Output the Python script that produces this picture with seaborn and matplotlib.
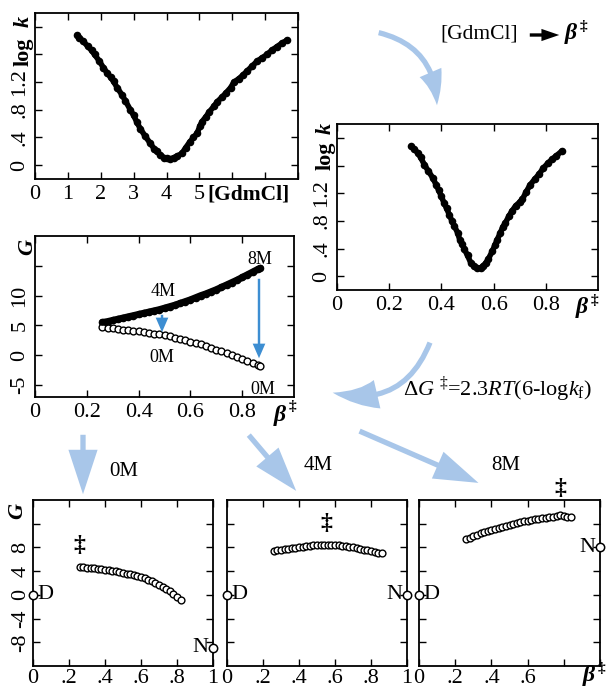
import numpy as np
import pandas as pd
import matplotlib
matplotlib.use("Agg")
import matplotlib.pyplot as plt
import seaborn as sns
from matplotlib.patches import FancyArrowPatch

# ---- data ----
# top-left: log k vs [GdmCl]
gdm = [1.28, 1.35, 1.45, 1.60, 1.72, 1.81, 1.95, 2.08, 2.20, 2.30, 2.39, 2.50, 2.64, 2.75,
       2.90, 3.00, 3.10, 3.20, 3.35, 3.50, 3.62, 3.70, 3.81, 3.92, 4.02, 4.12, 4.22, 4.32,
       4.47, 4.58, 4.70, 4.82, 4.93, 5.02, 5.08, 5.20, 5.30, 5.44, 5.55, 5.68, 5.80, 5.95,
       6.05, 6.20, 6.32, 6.45, 6.60, 6.75, 6.90, 7.06, 7.20, 7.35, 7.50, 7.68]
logk_gdm = [1.88, 1.84, 1.80, 1.72, 1.66, 1.60, 1.51, 1.41, 1.33, 1.27, 1.21, 1.12, 1.02, 0.93,
            0.80, 0.72, 0.62, 0.53, 0.42, 0.32, 0.24, 0.20, 0.15, 0.11, 0.10, 0.09, 0.11, 0.13,
            0.17, 0.25, 0.33, 0.40, 0.46, 0.57, 0.63, 0.70, 0.77, 0.85, 0.92, 0.98, 1.04, 1.12,
            1.20, 1.25, 1.30, 1.36, 1.43, 1.50, 1.55, 1.60, 1.66, 1.71, 1.76, 1.81]

# middle-right: log k vs beta
beta_k = [0.285, 0.295, 0.31, 0.32, 0.335, 0.35, 0.367, 0.38, 0.39, 0.399, 0.41, 0.42, 0.43,
          0.44, 0.45, 0.462, 0.47, 0.48, 0.488, 0.50, 0.513, 0.525, 0.538, 0.55, 0.56, 0.57,
          0.58, 0.595, 0.605, 0.614, 0.625, 0.635, 0.645, 0.659, 0.67, 0.685, 0.70, 0.71,
          0.725, 0.74, 0.757, 0.773, 0.79, 0.807, 0.824, 0.84, 0.862]
logk_beta = [1.88, 1.84, 1.78, 1.72, 1.61, 1.52, 1.42, 1.32, 1.24, 1.16, 1.06, 0.98, 0.89,
             0.80, 0.72, 0.63, 0.53, 0.46, 0.39, 0.30, 0.19, 0.14, 0.12, 0.12, 0.15, 0.19,
             0.25, 0.36, 0.45, 0.53, 0.62, 0.71, 0.77, 0.87, 0.94, 1.02, 1.07, 1.11,
             1.22, 1.32, 1.40, 1.47, 1.56, 1.63, 1.69, 1.74, 1.81]

# middle-left: G vs beta at 8M (filled) and 0M (open)
beta_c = [0.26, 0.28, 0.30, 0.32, 0.34, 0.36, 0.38, 0.40, 0.42, 0.44, 0.46, 0.48, 0.50, 0.52,
          0.54, 0.56, 0.58, 0.60, 0.62, 0.64, 0.66, 0.68, 0.70, 0.72, 0.74, 0.76, 0.78, 0.80,
          0.82, 0.84, 0.86, 0.87]
g_8m = [5.5, 5.65, 5.85, 6.05, 6.25, 6.45, 6.65, 6.85, 7.05, 7.25, 7.45, 7.65, 7.9, 8.15,
        8.4, 8.7, 9.0, 9.3, 9.65, 10.0, 10.3, 10.65, 11.0, 11.4, 11.8, 12.2, 12.6, 13.05,
        13.5, 13.95, 14.4, 14.6]
g_0m_c = [4.7, 4.6, 4.5, 4.4, 4.3, 4.2, 4.1, 4.0, 3.9, 3.75, 3.6, 3.5, 3.35, 3.15,
          2.95, 2.75, 2.5, 2.3, 2.1, 1.85, 1.55, 1.25, 0.95, 0.65, 0.3, 0.05, -0.3, -0.6,
          -0.95, -1.25, -1.6, -1.8]

# bottom row: G profiles at 0M, 4M, 8M
beta_0m = [0.26, 0.28, 0.30, 0.32, 0.34, 0.36, 0.38, 0.40, 0.42, 0.44, 0.46, 0.48, 0.50, 0.52,
           0.54, 0.56, 0.58, 0.60, 0.62, 0.64, 0.66, 0.68, 0.70, 0.72, 0.74, 0.76, 0.78, 0.80, 0.82]
g_0m = [4.72, 4.65, 4.6, 4.53, 4.47, 4.4, 4.33, 4.25, 4.18, 4.08, 3.97, 3.85, 3.72, 3.6,
        3.45, 3.3, 3.15, 3.0, 2.8, 2.55, 2.3, 2.0, 1.7, 1.35, 1.0, 0.6, 0.2, -0.3, -0.88]
beta_4m = [0.26, 0.28, 0.30, 0.32, 0.34, 0.36, 0.38, 0.40, 0.42, 0.44, 0.46, 0.48, 0.50, 0.52,
           0.54, 0.56, 0.58, 0.60, 0.62, 0.64, 0.66, 0.68, 0.70, 0.72, 0.74, 0.76, 0.78, 0.80,
           0.82, 0.84, 0.86]
g_4m = [7.42, 7.5, 7.6, 7.7, 7.8, 7.88, 7.96, 8.04, 8.12, 8.2, 8.27, 8.33, 8.38, 8.42,
        8.43, 8.43, 8.42, 8.4, 8.36, 8.3, 8.22, 8.12, 8.02, 7.9, 7.77, 7.63, 7.5, 7.37,
        7.25, 7.12, 7.0]
beta_8m = [0.26, 0.28, 0.30, 0.32, 0.34, 0.36, 0.38, 0.40, 0.42, 0.44, 0.46, 0.48, 0.50, 0.52,
           0.54, 0.56, 0.58, 0.60, 0.62, 0.64, 0.66, 0.68, 0.70, 0.72, 0.74, 0.76, 0.78, 0.80,
           0.82, 0.84]
g_8m_b = [9.35, 9.6, 9.85, 10.1, 10.35, 10.6, 10.8, 11.0, 11.15, 11.3, 11.45, 11.6, 11.8, 11.95,
          12.1, 12.25, 12.4, 12.5, 12.65, 12.75, 12.85, 12.92, 13.0, 13.05, 13.15, 13.25, 13.45,
          13.35, 13.2, 13.1]
g_native = [-8.9, 0.0, 8.0]          # N end point for 0M, 4M, 8M
ts_pos = [(0.26, 8.4), (0.55, 12.0), (0.78, 17.9)]   # double dagger marks

sns.set_theme(style="ticks")
plt.rcParams["font.family"] = ["Liberation Serif", "DejaVu Serif"]
plt.rcParams["text.color"] = "black"
plt.rcParams["mathtext.fontset"] = "custom"
plt.rcParams["mathtext.rm"] = "Liberation Serif"
plt.rcParams["mathtext.it"] = "Liberation Serif:italic"
plt.rcParams["mathtext.bf"] = "Liberation Serif:bold"

W, H = 610, 699
fig = plt.figure(figsize=(6.1, 6.99), dpi=100)
BLUE = "#a3c3e8"
DBLUE = "#3d8ed2"


def rect(x0, y0, x1, y1):
    return [x0 / W, 1 - y1 / H, (x1 - x0) / W, (y1 - y0) / H]


def style(ax, xlim, ylim, xticks, xlabels, yticks, ylabels, pad=3):
    ax.set_xlim(xlim)
    ax.set_ylim(ylim)
    ax.set_xticks(xticks)
    ax.set_xticklabels(xlabels)
    ax.set_yticks(yticks)
    ax.set_yticklabels(ylabels, rotation=90, va="center")
    ax.tick_params(direction="in", top=True, right=True, length=5, width=1,
                   labelsize=16, pad=pad, colors="black")
    for s in ax.spines.values():
        s.set_linewidth(1.3)
        s.set_color("black")
    ax.set_xlabel("")
    ax.set_ylabel("")


def filled(ax, x, y, lw=3.0, s=16):
    df = pd.DataFrame({"x": x, "y": y})
    sns.lineplot(data=df, x="x", y="y", ax=ax, color="black", linewidth=lw,
                 sort=False, estimator=None)
    sns.scatterplot(data=df, x="x", y="y", ax=ax, color="black", s=s, linewidth=0)


def opened(ax, x, y, s=24):
    df = pd.DataFrame({"x": x, "y": y})
    sns.scatterplot(data=df, x="x", y="y", ax=ax, marker="o", s=s,
                    facecolor="white", edgecolor="black", linewidth=1.0)


# panel A
axA = fig.add_axes(rect(35, 13, 298, 179))
filled(axA, gdm, logk_gdm, lw=4.0, s=30)
style(axA, (0, 8), (-0.2, 2.2), range(9), ["0", "1", "2", "3", "4", "5", "", "", ""],
      [0, 0.4, 0.8, 1.2, 1.6, 2.0], ["0", ".4", ".8", "1.2", "", ""], pad=4)

# panel B
axB = fig.add_axes(rect(337, 124, 598, 290))
filled(axB, beta_k, logk_beta, lw=4.0, s=30)
style(axB, (0, 1), (-0.2, 2.2), [0, 0.2, 0.4, 0.6, 0.8], ["0", "0.2", "0.4", "0.6", "0.8"],
      [0, 0.4, 0.8, 1.2, 1.6, 2.0], ["0", ".4", ".8", "1.2", "", ""], pad=4)

# panel C
axC = fig.add_axes(rect(35, 236, 294, 397))
filled(axC, beta_c, g_8m, lw=5.0, s=30)
opened(axC, beta_c, g_0m_c)
style(axC, (0, 1), (-7, 20), [0, 0.2, 0.4, 0.6, 0.8], ["0", "0.2", "0.4", "0.6", "0.8"],
      [-5, 0, 5, 10, 15], ["-5", "0", "5", "10", ""], pad=4)

# bottom row
boxes = [(33, 213), (227, 407), (419, 600)]
profiles = [(beta_0m, g_0m), (beta_4m, g_4m), (beta_8m, g_8m_b)]
xlabs = [["0", ".2", ".4", ".6", ".8", "1"], ["0", ".2", ".4", ".6", ".8", "1"],
         ["0", ".2", ".4", ".6", "", ""]]
for i, ((x0, x1), (bx, gy)) in enumerate(zip(boxes, profiles)):
    ax = fig.add_axes(rect(x0, 500, x1, 666))
    opened(ax, bx, gy)
    ax.plot([0], [0], "o", ms=6, mfc="white", mec="black", mew=1.1, clip_on=False, zorder=5)
    ax.plot([1], [g_native[i]], "o", ms=6, mfc="white", mec="black", mew=1.1,
            clip_on=False, zorder=5)
    ax.text(0.025, 0, "D", fontsize=16, va="center", ha="left")
    ax.text(0.975, g_native[i], "N", fontsize=16, va="center", ha="right")
    ax.text(ts_pos[i][0], ts_pos[i][1], "‡", fontsize=17, ha="center", va="center",
            fontweight="bold", clip_on=False)
    style(ax, (0, 1), (-12, 16), [0, 0.2, 0.4, 0.6, 0.8, 1], xlabs[i],
          [-8, -4, 0, 4, 8, 12], ["-8", "-4", "0", "4", "8", ""] if i == 0 else [""] * 6, pad=2)

# overlay in pixel coordinates for annotations
ov = fig.add_axes([0, 0, 1, 1])
ov.set_xlim(0, W)
ov.set_ylim(H, 0)
ov.axis("off")
ov.patch.set_alpha(0)
ov.set_zorder(10)


def beta_lab(x, y, size=17):
    ov.text(x, y, "β", fontsize=size, fontweight="bold", style="italic", ha="center", va="center")
    ov.text(x + 12, y - 8, "‡", fontsize=size * 0.65, fontweight="bold", ha="center", va="center")


def rot_lab(x, y, s, italic=False):
    ov.text(x, y, s, fontsize=16, fontweight="bold", style="italic" if italic else "normal",
            rotation=90, ha="center", va="center")


rot_lab(24, 52, "log")
rot_lab(24, 21, "k", italic=True)
rot_lab(326, 156, "log")
rot_lab(326, 128, "k", italic=True)
rot_lab(27, 247, "G", italic=True)
rot_lab(17, 511, "G", italic=True)
ov.text(207, 195, "[GdmCl]", fontsize=15.5, fontweight="bold", ha="left", va="center")
beta_lab(582, 308)
beta_lab(280, 415)
beta_lab(589, 676)

# labels in panel C
for (x, y, s) in [(260, 259, "8M"), (163, 292, "4M"), (162, 357, "0M"), (263, 389, "0M")]:
    ov.text(x, y, s, fontsize=13, ha="center", va="center")
for (x0, y0, x1, y1) in [(162, 312, 162, 335), (259, 276, 259, 361)]:
    ov.add_patch(FancyArrowPatch((x0, y0), (x1, y1), mutation_scale=7, color=DBLUE, lw=0,
                                 arrowstyle="simple,head_length=1.5,head_width=1.3,tail_width=0.25"))

# top-right note
ov.text(440, 34, "[GdmCl]", fontsize=15.5, ha="left", va="center")
ov.add_patch(FancyArrowPatch((527, 35), (562, 35), mutation_scale=8, color="black", lw=0,
                             arrowstyle="simple,head_length=1.6,head_width=1.1,tail_width=0.3"))
beta_lab(571, 34, size=17)

# formula
ov.text(403, 390, r"$\Delta G$ $^{\ddagger}$=2.3$RT$(6-log$k_{\rm f}$)", fontsize=16,
        ha="left", va="center")

# bottom labels
for (x, y, s) in [(124, 471, "0M"), (318, 465, "4M"), (506, 465, "8M")]:
    ov.text(x, y, s, fontsize=15, ha="center", va="center")

# light blue flow arrows
big = "simple,head_length=3.2,head_width=2.1,tail_width=0.38"
flows = [((376, 32), (437, 108), "arc3,rad=-0.4", "simple,head_length=2.4,head_width=1.7,tail_width=0.38"),
         ((431, 340), (330, 392), "arc3,rad=-0.45", big),
         ((83, 432), (83, 497), "arc3,rad=0", big),
         ((247, 433), (298, 493), "arc3,rad=0", big),
         ((357, 430), (481, 484), "arc3,rad=0", big)]
for a, b, conn, st in flows:
    ov.add_patch(FancyArrowPatch(a, b, connectionstyle=conn, arrowstyle=st, mutation_scale=10,
                                 color=BLUE, lw=0, alpha=0.95))

fig.savefig("out.png", dpi=100)
